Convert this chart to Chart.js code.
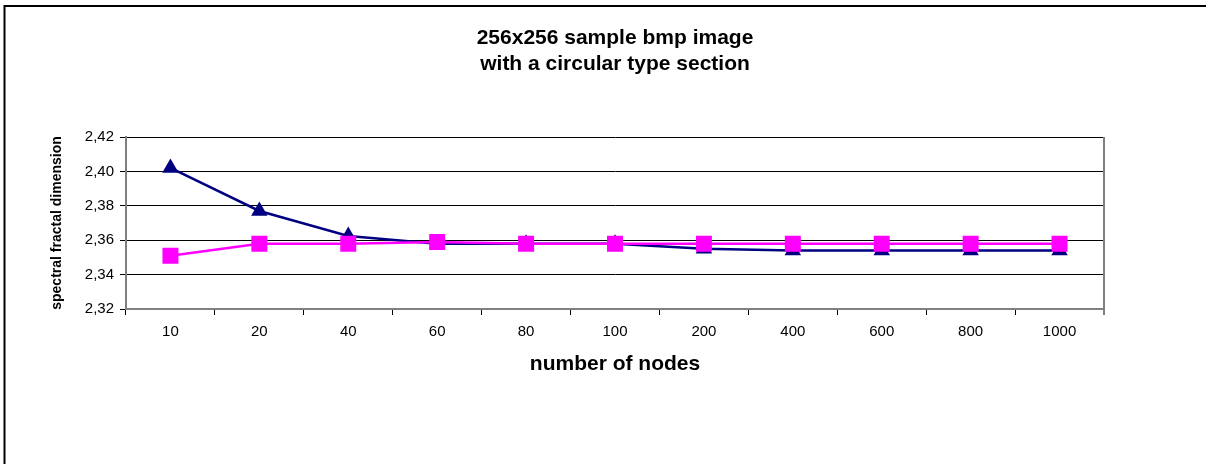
<!DOCTYPE html>
<html>
<head>
<meta charset="utf-8">
<script src="https://cdn.jsdelivr.net/npm/chart.js@4/dist/chart.umd.min.js"></script>
<style>
html,body{margin:0;padding:0;background:#fff;}
#wrap{position:relative;width:1206px;height:464px;}
</style>
</head>
<body>
<div id="wrap"><canvas id="c" width="1206" height="464"></canvas></div>
<script>
const categories = ['10','20','40','60','80','100','200','400','600','800','1000'];
const seriesTriangle = [2.402, 2.377, 2.3625, 2.358, 2.358, 2.358, 2.355, 2.354, 2.354, 2.354, 2.354];
const seriesSquare = [2.351, 2.358, 2.358, 2.359, 2.358, 2.358, 2.358, 2.358, 2.358, 2.358, 2.358];
const titleLines = ['256x256 sample bmp image', 'with a circular type section'];
const yTitle = 'spectral fractal dimension';
const xTitle = 'number of nodes';

const FONT = 'Arial, "Liberation Sans", Helvetica, sans-serif';

const framePlugin = {
  id: 'frame',
  afterDraw(chart) {
    const ctx = chart.ctx;
    const a = chart.chartArea;
    ctx.save();
    ctx.strokeStyle = '#808080';
    ctx.lineWidth = 2;
    ctx.beginPath();
    ctx.moveTo(a.right, a.top);
    ctx.lineTo(a.right, a.bottom + 6);
    ctx.stroke();
    ctx.strokeStyle = '#000';
    ctx.lineWidth = 2;
    ctx.beginPath();
    ctx.moveTo(1206, 6);
    ctx.lineTo(4.5, 6);
    ctx.lineTo(4.5, 464);
    ctx.stroke();
    ctx.restore();
  }
};

new Chart(document.getElementById('c'), {
  type: 'line',
  data: {
    labels: categories,
    datasets: [
      {
        label: 'triangle',
        data: seriesTriangle,
        borderColor: '#000080',
        backgroundColor: '#000080',
        borderWidth: 2.5,
        pointStyle: 'triangle',
        pointRadius: 9.5,
        pointHoverRadius: 9.5,
        pointBorderWidth: 0,
        tension: 0,
        order: 2
      },
      {
        label: 'square',
        data: seriesSquare,
        borderColor: '#FF00FF',
        backgroundColor: '#FF00FF',
        borderWidth: 2.5,
        pointStyle: 'rect',
        pointRadius: 11.3,
        pointHoverRadius: 11.3,
        pointBorderWidth: 0,
        tension: 0,
        order: 1
      }
    ]
  },
  options: {
    responsive: false,
    animation: false,
    layout: { padding: { left: 10, right: 102, top: 0, bottom: 85 } },
    plugins: {
      legend: { display: false },
      tooltip: { enabled: false },
      title: {
        display: true,
        fullSize: false,
        text: titleLines,
        color: '#000',
        font: { family: FONT, size: 21, weight: 'bold', lineHeight: 1.25 },
        padding: { top: 25, bottom: 59.5 }
      }
    },
    scales: {
      x: {
        offset: true,
        grid: {
          offset: true,
          drawOnChartArea: false,
          drawTicks: true,
          tickLength: 6,
          color: '#000'
        },
        border: { display: true, color: '#808080', width: 2 },
        ticks: { color: '#000', font: { family: FONT, size: 15 }, padding: 8, maxRotation: 0, autoSkip: false },
        title: {
          display: true,
          text: xTitle,
          color: '#000',
          font: { family: FONT, size: 21, weight: 'bold' },
          padding: { top: 0, bottom: 2 }
        },
        afterFit(scale) { scale.height = 70; }
      },
      y: {
        min: 2.32,
        max: 2.42,
        grid: {
          color: '#000',
          lineWidth: 1,
          drawTicks: true,
          tickLength: 6
        },
        border: { display: true, color: '#808080', width: 2 },
        ticks: {
          stepSize: 0.02,
          color: '#000',
          font: { family: FONT, size: 15 },
          padding: 6,
          callback: (v) => Number(v).toFixed(2).replace('.', ',')
        },
        title: {
          display: true,
          text: yTitle,
          color: '#000',
          font: { family: FONT, size: 14, weight: 'bold' },
          padding: { top: 38.5, bottom: 0 }
        },
        afterFit(scale) { scale.width = 116; }
      }
    }
  },
  plugins: [framePlugin]
});
</script>
</body>
</html>
